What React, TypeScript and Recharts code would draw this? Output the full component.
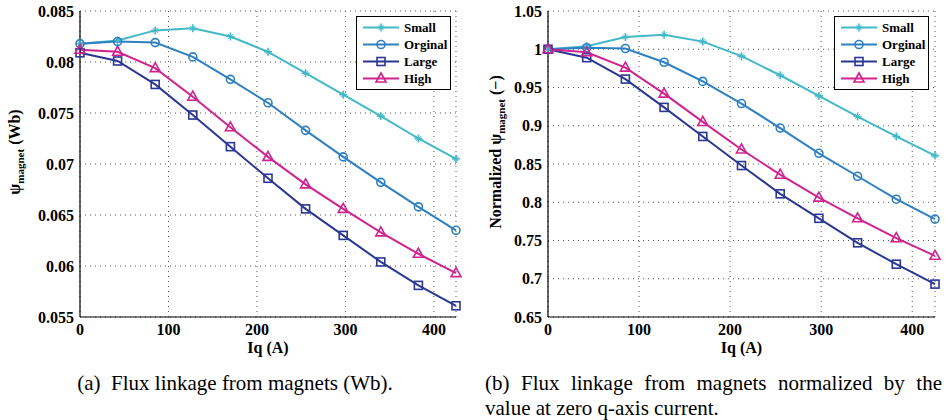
import React from 'react';
import { LineChart, Line, XAxis, YAxis, CartesianGrid, Label } from 'recharts';

// q-axis current (A)
const iq = [0, 42.5, 85, 127.5, 170, 212.5, 255, 297.5, 340, 382.5, 425];

const seriesNames = ['Small', 'Orginal', 'Large', 'High'];

// (a) flux linkage from magnets (Wb)
const fluxSmall = [0.0818, 0.0821, 0.0831, 0.0833, 0.0825, 0.0810, 0.0789, 0.0768, 0.0747, 0.0725, 0.0705];
const fluxOrginal = [0.0818, 0.0820, 0.0819, 0.0805, 0.0783, 0.0760, 0.0733, 0.0707, 0.0682, 0.0658, 0.0635];
const fluxLarge = [0.0809, 0.0801, 0.0778, 0.0748, 0.0717, 0.0686, 0.0656, 0.0630, 0.0604, 0.0581, 0.0561];
const fluxHigh = [0.0812, 0.0810, 0.0794, 0.0766, 0.0736, 0.0707, 0.0680, 0.0656, 0.0633, 0.0612, 0.0593];

// (b) normalized by value at zero current (-)
const normSmall = [1, 1.004, 1.016, 1.019, 1.010, 0.991, 0.966, 0.939, 0.912, 0.886, 0.861];
const normOrginal = [1, 1.002, 1.001, 0.983, 0.958, 0.929, 0.897, 0.864, 0.834, 0.804, 0.778];
const normLarge = [1, 0.989, 0.961, 0.924, 0.886, 0.848, 0.811, 0.779, 0.747, 0.719, 0.693];
const normHigh = [1, 0.996, 0.976, 0.942, 0.905, 0.869, 0.836, 0.806, 0.779, 0.753, 0.730];

const xTicks = [0, 100, 200, 300, 400];
const fluxTicks = [0.055, 0.06, 0.065, 0.07, 0.075, 0.08, 0.085];
const normTicks = [0.65, 0.7, 0.75, 0.8, 0.85, 0.9, 0.95, 1, 1.05];

const colors: Record<string, string> = {
  Small: '#43B9C8',
  Orginal: '#2E80C2',
  Large: '#2B3893',
  High: '#D1238F',
};

const FONT = '"Liberation Serif", "Times New Roman", serif';

const buildRows = (vals: number[][]) =>
  iq.map((x, i) => {
    const row: Record<string, number> = { iq: x };
    seriesNames.forEach((n, k) => (row[n] = vals[k][i]));
    return row;
  });

const fluxData = buildRows([fluxSmall, fluxOrginal, fluxLarge, fluxHigh]);
const normData = buildRows([normSmall, normOrginal, normLarge, normHigh]);

// marker shapes, like matlab '*', 'o', 's', '^'
const Marker = ({ name, cx, cy }: { name: string; cx: number; cy: number }) => {
  const c = colors[name];
  if (name === 'Small') {
    return (
      <g stroke={c} strokeWidth={1.6}>
        <line x1={cx - 4} y1={cy} x2={cx + 4} y2={cy} />
        <line x1={cx} y1={cy - 4} x2={cx} y2={cy + 4} />
        <line x1={cx - 2.5} y1={cy - 2.5} x2={cx + 2.5} y2={cy + 2.5} strokeWidth={1} />
        <line x1={cx - 2.5} y1={cy + 2.5} x2={cx + 2.5} y2={cy - 2.5} strokeWidth={1} />
      </g>
    );
  }
  if (name === 'Orginal') {
    return <circle cx={cx} cy={cy} r={4} fill="none" stroke={c} strokeWidth={1.6} />;
  }
  if (name === 'Large') {
    return <rect x={cx - 4} y={cy - 4} width={8} height={8} fill="none" stroke={c} strokeWidth={1.6} />;
  }
  return (
    <polygon
      points={`${cx},${cy - 5.5} ${cx + 5},${cy + 3.5} ${cx - 5},${cy + 3.5}`}
      fill="none"
      stroke={c}
      strokeWidth={1.6}
    />
  );
};

const tickStyle = { fontFamily: FONT, fontWeight: 700, fontSize: 16, fill: '#000' };

interface PanelProps {
  data: Record<string, number>[];
  yTicks: number[];
  width: number;
  yWidth: number;
  rightMargin: number;
  yTitle: string;
  yUnit: string;
  yTitleX: number;
}

const Panel: React.FC<PanelProps> = ({ data, yTicks, width, yWidth, rightMargin, yTitle, yUnit, yTitleX }) => (
  <LineChart
    width={width}
    height={360}
    data={data}
    margin={{ top: 11, right: rightMargin, bottom: 0, left: 10 }}
    style={{ fontFamily: FONT }}
  >
    <CartesianGrid stroke="#555" strokeDasharray="1 4" strokeWidth={1} />
    <XAxis
      dataKey="iq"
      type="number"
      domain={[0, 425]}
      ticks={xTicks}
      height={43}
      tickLine={false}
      tickSize={0}
      tickMargin={7}
      tick={tickStyle}
      axisLine={{ stroke: '#000', strokeWidth: 1.2 }}
    >
      <Label
        content={({ viewBox }: any) => (
          <text
            x={viewBox.x + viewBox.width / 2}
            y={viewBox.y + 35.5}
            textAnchor="middle"
            style={{ fontFamily: FONT, fontWeight: 700, fontSize: 16 }}
          >
            Iq (A)
          </text>
        )}
      />
    </XAxis>
    <YAxis
      type="number"
      domain={[yTicks[0], yTicks[yTicks.length - 1]]}
      ticks={yTicks}
      width={yWidth}
      tickLine={false}
      tickSize={0}
      tickMargin={6}
      tick={tickStyle}
      tickFormatter={(v: number) => String(v)}
      axisLine={{ stroke: '#000', strokeWidth: 1.2 }}
      allowDataOverflow
    >
      <Label
        content={({ viewBox }: any) => {
          const cy = viewBox.y + viewBox.height / 2 - 12;
          return (
            <text
              x={yTitleX}
              y={cy}
              transform={`rotate(-90 ${yTitleX} ${cy})`}
              textAnchor="middle"
              style={{ fontFamily: FONT, fontWeight: 700, fontSize: 16 }}
            >
              {yTitle}ψ
              <tspan fontSize={11} dy={4}>magnet</tspan>
              <tspan dy={-4}> {yUnit}</tspan>
            </text>
          );
        }}
      />
    </YAxis>
    {seriesNames.map((n) => (
      <Line
        key={n}
        dataKey={n}
        type="linear"
        stroke={colors[n]}
        strokeWidth={2}
        isAnimationActive={false}
        dot={(p: any) => <Marker key={n + p.index} name={n} cx={p.cx} cy={p.cy} />}
      />
    ))}
  </LineChart>
);

const LegendBox: React.FC<{ left: number; top: number }> = ({ left, top }) => (
  <div
    style={{
      position: 'absolute',
      left,
      top,
      border: '1.5px solid #000',
      background: '#fff',
      padding: '2px 3px 2px 0',
      fontFamily: FONT,
      fontWeight: 700,
      fontSize: 13,
    }}
  >
    {seriesNames.map((n) => (
      <div key={n} style={{ display: 'flex', alignItems: 'center', height: 17 }}>
        <svg width={36} height={17} style={{ marginLeft: 6 }}>
          <line x1={0} y1={8.5} x2={36} y2={8.5} stroke={colors[n]} strokeWidth={2} />
          <Marker name={n} cx={18} cy={8.5} />
        </svg>
        <span style={{ marginLeft: 5, lineHeight: '17px' }}>{n}</span>
      </div>
    ))}
  </div>
);

export default function App() {
  return (
    <div
      style={{
        position: 'absolute',
        left: 0,
        top: 0,
        width: 950,
        height: 420,
        background: '#fff',
        fontFamily: FONT,
        overflow: 'hidden',
      }}
    >
      <div style={{ position: 'absolute', left: 0, top: 0 }}>
        <Panel
          data={fluxData}
          yTicks={fluxTicks}
          width={470}
          yWidth={70}
          rightMargin={14}
          yTitle=""
          yUnit="(Wb)"
          yTitleX={20}
        />
      </div>
      <div style={{ position: 'absolute', left: 470, top: 0 }}>
        <Panel
          data={normData}
          yTicks={normTicks}
          width={480}
          yWidth={68}
          rightMargin={15}
          yTitle="Normalized "
          yUnit="(−)"
          yTitleX={31}
        />
      </div>
      <LegendBox left={356} top={16} />
      <LegendBox left={834} top={16} />
      <div
        style={{
          position: 'absolute',
          left: 0,
          top: 371,
          width: 470,
          textAlign: 'center',
          fontSize: 21,
          lineHeight: '25px',
          whiteSpace: 'pre',
        }}
      >
        (a)  Flux linkage from magnets (Wb).
      </div>
      <div
        style={{
          position: 'absolute',
          left: 485,
          top: 371,
          width: 457,
          fontSize: 21,
          lineHeight: '25px',
          textAlign: 'justify',
          textAlignLast: 'left',
        }}
      >
        (b) Flux linkage from magnets normalized by the value at zero q-axis current.
      </div>
    </div>
  );
}
